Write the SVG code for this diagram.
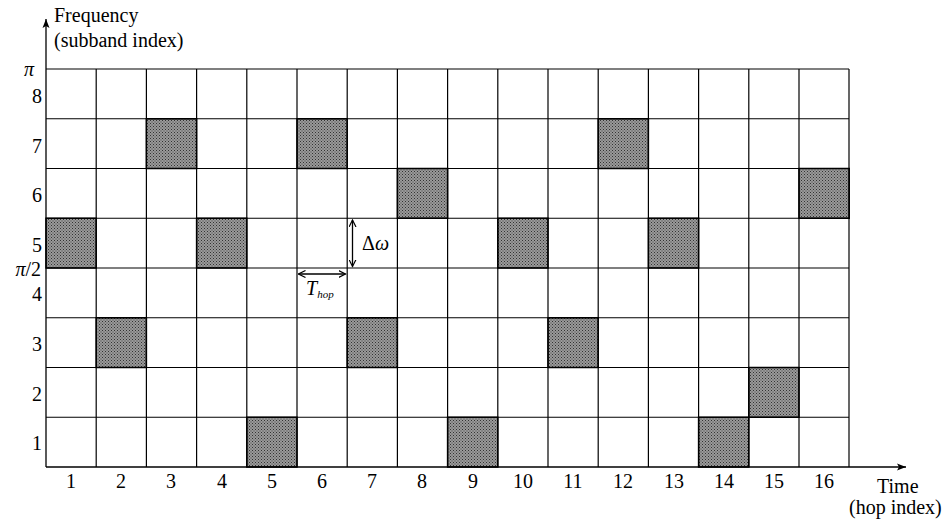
<svg xmlns="http://www.w3.org/2000/svg" width="950" height="527" viewBox="0 0 950 527">
<style>
text{font-family:"Liberation Serif","DejaVu Serif",serif;font-size:20px;fill:#000}
.grid line{stroke:#000;stroke-width:1.2}
.cell{fill:url(#dots);stroke:#000;stroke-width:1.5}
.ax{stroke:#000;stroke-width:1.3;fill:none}
.lab{text-anchor:middle}
.rl{text-anchor:end}
</style>
<defs>
<pattern id="dots" width="3" height="3" patternUnits="userSpaceOnUse">
<rect width="3" height="3" fill="#9a9a9a"/>
<rect width="1" height="1" fill="#333"/>
<rect x="1.5" y="1.5" width="1" height="1" fill="#444"/>
</pattern>
<marker id="ah" markerWidth="10" markerHeight="8" refX="9" refY="4" orient="auto" markerUnits="userSpaceOnUse">
<path d="M0,0.5 L9,4 L0,7.5 L2,4 Z" fill="#000"/>
</marker>
<marker id="sh" markerWidth="8" markerHeight="8" refX="7" refY="4" orient="auto-start-reverse" markerUnits="userSpaceOnUse">
<path d="M0,0.5 L7,4 L0,7.5" fill="none" stroke="#000" stroke-width="1.2"/>
</marker>
</defs>
<g id="cells">
<rect class="cell" x="46" y="218.25" width="50.2" height="49.75"/>
<rect class="cell" x="96.2" y="317.75" width="50.2" height="49.75"/>
<rect class="cell" x="146.4" y="118.75" width="50.2" height="49.75"/>
<rect class="cell" x="196.6" y="218.25" width="50.2" height="49.75"/>
<rect class="cell" x="246.8" y="417.25" width="50.2" height="49.75"/>
<rect class="cell" x="297" y="118.75" width="50.2" height="49.75"/>
<rect class="cell" x="347.2" y="317.75" width="50.2" height="49.75"/>
<rect class="cell" x="397.4" y="168.5" width="50.2" height="49.75"/>
<rect class="cell" x="447.6" y="417.25" width="50.2" height="49.75"/>
<rect class="cell" x="497.8" y="218.25" width="50.2" height="49.75"/>
<rect class="cell" x="548" y="317.75" width="50.2" height="49.75"/>
<rect class="cell" x="598.2" y="118.75" width="50.2" height="49.75"/>
<rect class="cell" x="648.4" y="218.25" width="50.2" height="49.75"/>
<rect class="cell" x="698.6" y="417.25" width="50.2" height="49.75"/>
<rect class="cell" x="748.8" y="367.5" width="50.2" height="49.75"/>
<rect class="cell" x="799" y="168.5" width="50.2" height="49.75"/>
</g>
<g class="grid" id="grid">
<line x1="46" y1="69" x2="849" y2="69"/>
<line x1="46" y1="118.75" x2="849" y2="118.75"/>
<line x1="46" y1="168.5" x2="849" y2="168.5"/>
<line x1="46" y1="218.25" x2="849" y2="218.25"/>
<line x1="46" y1="268" x2="849" y2="268"/>
<line x1="46" y1="317.75" x2="849" y2="317.75"/>
<line x1="46" y1="367.5" x2="849" y2="367.5"/>
<line x1="46" y1="417.25" x2="849" y2="417.25"/>
<line x1="96.2" y1="69" x2="96.2" y2="467"/>
<line x1="146.4" y1="69" x2="146.4" y2="467"/>
<line x1="196.6" y1="69" x2="196.6" y2="467"/>
<line x1="246.8" y1="69" x2="246.8" y2="467"/>
<line x1="297" y1="69" x2="297" y2="467"/>
<line x1="347.2" y1="69" x2="347.2" y2="467"/>
<line x1="397.4" y1="69" x2="397.4" y2="467"/>
<line x1="447.6" y1="69" x2="447.6" y2="467"/>
<line x1="497.8" y1="69" x2="497.8" y2="467"/>
<line x1="548" y1="69" x2="548" y2="467"/>
<line x1="598.2" y1="69" x2="598.2" y2="467"/>
<line x1="648.4" y1="69" x2="648.4" y2="467"/>
<line x1="698.6" y1="69" x2="698.6" y2="467"/>
<line x1="748.8" y1="69" x2="748.8" y2="467"/>
<line x1="799" y1="69" x2="799" y2="467"/>
<line x1="849" y1="69" x2="849" y2="467"/>
</g>
<g id="connectors">
<line class="ax" x1="46" y1="467" x2="46" y2="19" marker-end="url(#ah)"/>
<line class="ax" x1="46" y1="467" x2="906" y2="467" marker-end="url(#ah)"/>
<line class="ax" x1="352.5" y1="220" x2="352.5" y2="266.5" marker-start="url(#sh)" marker-end="url(#sh)"/>
<line class="ax" x1="298.5" y1="274" x2="345.5" y2="274" marker-start="url(#sh)" marker-end="url(#sh)"/>
</g>
<g id="labels">
<text x="54" y="22">Frequency</text>
<text x="54" y="47">(subband index)</text>
<text x="877" y="493">Time</text>
<text x="849" y="514">(hop index)</text>
<text x="362" y="250">Δ<tspan font-style="italic">ω</tspan></text>
<text x="306" y="295" font-style="italic">T<tspan font-size="11" dy="3">hop</tspan></text>
<text x="34" y="76" font-style="italic" class="rl">π</text>
<text x="41" y="276" class="rl"><tspan font-style="italic">π</tspan>/2</text>
<text x="42" y="103" class="rl">8</text>
<text x="42" y="153" class="rl">7</text>
<text x="42" y="202" class="rl">6</text>
<text x="42" y="252" class="rl">5</text>
<text x="42" y="301" class="rl">4</text>
<text x="42" y="351" class="rl">3</text>
<text x="42" y="401" class="rl">2</text>
<text x="42" y="450" class="rl">1</text>
<text x="71" y="488" class="lab">1</text>
<text x="121" y="488" class="lab">2</text>
<text x="171" y="488" class="lab">3</text>
<text x="222" y="488" class="lab">4</text>
<text x="272" y="488" class="lab">5</text>
<text x="322" y="488" class="lab">6</text>
<text x="372" y="488" class="lab">7</text>
<text x="422" y="488" class="lab">8</text>
<text x="473" y="488" class="lab">9</text>
<text x="523" y="488" class="lab">10</text>
<text x="573" y="488" class="lab">11</text>
<text x="623" y="488" class="lab">12</text>
<text x="674" y="488" class="lab">13</text>
<text x="724" y="488" class="lab">14</text>
<text x="774" y="488" class="lab">15</text>
<text x="824" y="488" class="lab">16</text>
</g>
</svg>
